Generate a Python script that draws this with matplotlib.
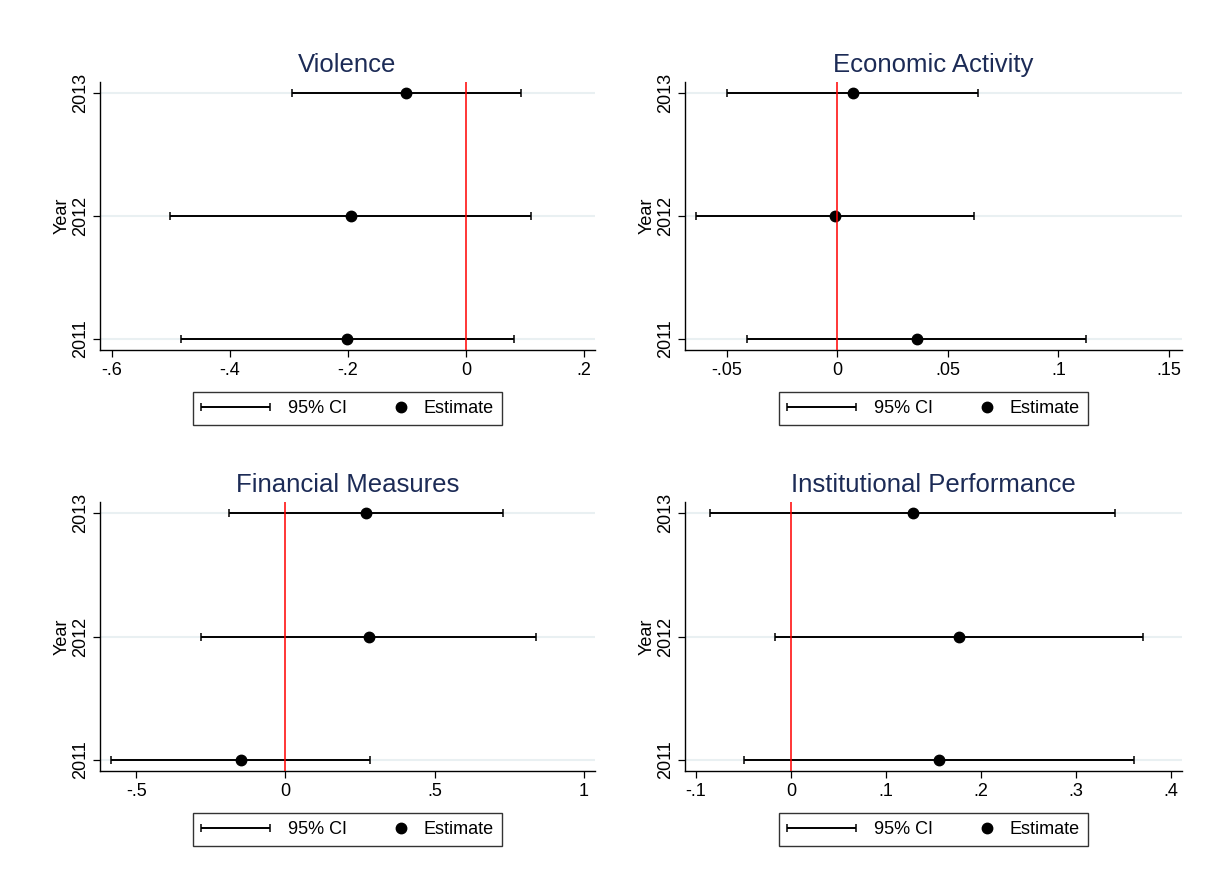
import matplotlib
matplotlib.use("Agg")
import matplotlib.pyplot as plt
from matplotlib.container import ErrorbarContainer
from matplotlib.legend_handler import HandlerErrorbar, HandlerLine2D

plt.rcParams['font.family'] = ['Liberation Sans', 'DejaVu Sans']

years = [2011, 2012, 2013]

# Violence
violence_est = [-0.201, -0.195, -0.101]
violence_lo = [-0.482, -0.502, -0.295]
violence_hi = [0.081, 0.110, 0.093]
violence_ticks = [-0.6, -0.4, -0.2, 0, 0.2]

# Economic Activity
econ_est = [0.0358, -0.0012, 0.0069]
econ_lo = [-0.0408, -0.0641, -0.050]
econ_hi = [0.1125, 0.0616, 0.0638]
econ_ticks = [-0.05, 0, 0.05, 0.1, 0.15]

# Financial Measures
fin_est = [-0.149, 0.279, 0.269]
fin_lo = [-0.584, -0.282, -0.191]
fin_hi = [0.284, 0.840, 0.730]
fin_ticks = [-0.5, 0, 0.5, 1]

# Institutional Performance
inst_est = [0.156, 0.1772, 0.1283]
inst_lo = [-0.0489, -0.0168, -0.0853]
inst_hi = [0.3617, 0.3707, 0.3414]
inst_ticks = [-0.1, 0, 0.1, 0.2, 0.3, 0.4]

titles = ['Violence', 'Economic Activity', 'Financial Measures', 'Institutional Performance']


def stata_label(v):
    # stata drops the leading zero: -.6, .2, 0, 1
    s = ('%g' % round(v, 4))
    if s.startswith('0.'):
        s = s[1:]
    elif s.startswith('-0.'):
        s = '-' + s[2:]
    return s


class RightMarkerHandler(HandlerLine2D):
    # put the legend dot at the right end of its handle box (stata look)
    def create_artists(self, legend, orig_handle, xdescent, ydescent,
                       width, height, fontsize, trans):
        arts = super().create_artists(legend, orig_handle, xdescent, ydescent,
                                      width, height, fontsize, trans)
        for a in arts:
            if a.get_marker() not in (None, 'None', ''):
                a.set_xdata([width - xdescent - 3])
        return arts


panels = [
    (titles[0], violence_est, violence_lo, violence_hi, violence_ticks, (-0.620, 0.2186)),
    (titles[1], econ_est, econ_lo, econ_hi, econ_ticks, (-0.069, 0.1559)),
    (titles[2], fin_est, fin_lo, fin_hi, fin_ticks, (-0.622, 1.038)),
    (titles[3], inst_est, inst_lo, inst_hi, inst_ticks, (-0.1115, 0.412)),
]

# axes boxes in figure fractions (left, bottom, width, height)
W, H = 1214, 884
boxes = [
    (100 / W, 1 - 350 / H, 495 / W, 268 / H),
    (685 / W, 1 - 350 / H, 497 / W, 268 / H),
    (100 / W, 1 - 771 / H, 495 / W, 269 / H),
    (685 / W, 1 - 771 / H, 497 / W, 269 / H),
]

title_col = '#1c2b56'
grid_col = '#e9f0f2'

fig = plt.figure(figsize=(12.14, 8.84), dpi=100)

for (title, est, lo, hi, ticks, xlim), box in zip(panels, boxes):
    ax = fig.add_axes(box)
    xerr = [[e - l for e, l in zip(est, lo)], [h - e for e, h in zip(est, hi)]]

    # horizontal grid at the years
    for y in years:
        ax.axhline(y, color=grid_col, lw=1.5, zorder=0)

    ci = ax.errorbar(est, years, xerr=xerr, fmt='none', ecolor='black',
                     elinewidth=1.4, capsize=3.2, capthick=1.1, zorder=2,
                     label='95% CI')
    pt, = ax.plot(est, years, 'o', color='black', ms=7.5, zorder=3, label='Estimate')
    ax.axvline(0, color='red', lw=1.1, zorder=4)

    ax.set_xlim(*xlim)
    ax.set_ylim(2010.91, 2013.09)
    ax.set_xticks(ticks)
    ax.set_xticklabels([stata_label(t) for t in ticks])
    ax.set_yticks(years)
    ax.set_yticklabels([str(y) for y in years], rotation=90, va='center')

    for s in ['top', 'right']:
        ax.spines[s].set_visible(False)
    for s in ['left', 'bottom']:
        ax.spines[s].set_linewidth(1.0)
        ax.spines[s].set_color('black')

    ax.tick_params(axis='both', direction='out', length=5, width=0.9,
                   labelsize=13, colors='black')
    ax.tick_params(axis='x', pad=4)
    ax.tick_params(axis='y', pad=3)
    ax.set_ylabel('Year', fontsize=13, labelpad=1)
    ax.set_title(title, fontsize=18.5, color=title_col, pad=7)

    leg = ax.legend(handles=[ci, pt], labels=['95% CI', 'Estimate'], ncol=2,
                    loc='upper center', bbox_to_anchor=(0.5, -0.156),
                    frameon=True, fancybox=False, edgecolor='black',
                    fontsize=13, handlelength=3.8, columnspacing=-0.55,
                    handletextpad=1.0, borderpad=0.45, borderaxespad=0,
                    handler_map={ErrorbarContainer: HandlerErrorbar(xerr_size=1.9),
                                 pt: RightMarkerHandler()})
    leg.get_frame().set_linewidth(1.0)

fig.savefig('out.png', dpi=100, facecolor='white')
